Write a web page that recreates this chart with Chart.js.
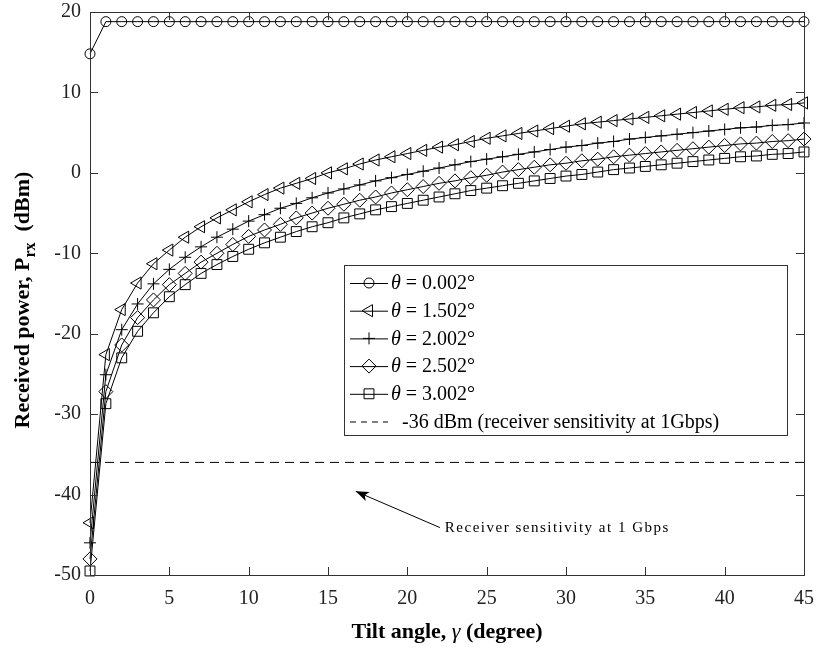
<!DOCTYPE html>
<html lang="en">
<head>
<meta charset="UTF-8" />
<title>Received power vs tilt angle</title>
<script src="https://cdn.jsdelivr.net/npm/chart.js"></script>
<style>
  html, body { margin:0; padding:0; background:#fff; }
  canvas { display:block; }
</style>
</head>
<body>
<canvas id="chart" width="820" height="648"></canvas>

<script>
// ---- data ----
const tilt = [0,1,2,3,4,5,6,7,8,9,10,11,12,13,14,15,16,17,18,19,20,21,22,23,24,25,26,27,28,29,30,31,32,33,34,35,36,37,38,39,40,41,42,43,44,45];

const p0002 = [14.8,18.8,18.8,18.8,18.8,18.8,18.8,18.8,18.8,18.8,18.8,18.8,18.8,18.8,18.8,18.8,18.8,18.8,18.8,18.8,18.8,18.8,18.8,18.8,18.8,18.8,18.8,18.8,18.8,18.8,18.8,18.8,18.8,18.8,18.8,18.8,18.8,18.8,18.8,18.8,18.8,18.8,18.8,18.8,18.8,18.8];
const p1502 = [-43.5,-22.6,-17.0,-13.7,-11.3,-9.6,-8.0,-6.7,-5.6,-4.6,-3.6,-2.7,-1.9,-1.3,-0.7,0.0,0.5,1.1,1.6,2.0,2.4,2.8,3.2,3.5,3.9,4.3,4.6,4.9,5.2,5.5,5.8,6.1,6.3,6.5,6.7,6.9,7.1,7.3,7.5,7.7,7.9,8.1,8.2,8.4,8.5,8.7];
const p2002 = [-46.0,-25.1,-19.5,-16.3,-13.8,-12.0,-10.5,-9.2,-8.0,-7.0,-6.0,-5.2,-4.4,-3.8,-3.1,-2.5,-2.0,-1.5,-1.0,-0.6,-0.2,0.2,0.6,1.0,1.4,1.7,2.0,2.3,2.6,2.9,3.2,3.4,3.7,3.9,4.2,4.4,4.6,4.8,5.0,5.2,5.4,5.6,5.7,5.9,6.0,6.2];
const p2502 = [-48.0,-27.2,-21.4,-18.0,-15.8,-13.9,-12.5,-11.1,-10.0,-8.9,-7.9,-7.1,-6.4,-5.6,-5.0,-4.4,-3.9,-3.4,-3.0,-2.5,-2.1,-1.7,-1.3,-1.0,-0.6,-0.3,0.1,0.4,0.7,1.0,1.2,1.5,1.7,2.0,2.2,2.4,2.6,2.8,3.0,3.2,3.4,3.6,3.7,3.9,4.0,4.2];
const p3002 = [-49.5,-28.7,-23.0,-19.7,-17.4,-15.4,-13.9,-12.5,-11.4,-10.4,-9.5,-8.7,-8.0,-7.3,-6.7,-6.2,-5.6,-5.1,-4.6,-4.2,-3.8,-3.4,-3.0,-2.6,-2.2,-1.9,-1.6,-1.3,-1.0,-0.7,-0.4,-0.2,0.1,0.4,0.6,0.8,1.0,1.2,1.4,1.6,1.8,2.0,2.1,2.3,2.4,2.6];

const sensX = [0, 45];
const sensY = [-36, -36];

const thetaLabels = ['0.002°', '1.502°', '2.002°', '2.502°', '3.002°'];
const sensLabel   = '-36 dBm (receiver sensitivity at 1Gbps)';
const noteText    = 'Receiver sensitivity at 1 Gbps';
const xTicks = [0,5,10,15,20,25,30,35,40,45];
const yTicks = [-50,-40,-30,-20,-10,0,10,20];

// ---- marker style per series ----
const markers = [
  { pointStyle:'circle',   radius:5, rotation:0 },
  { pointStyle:'triangle', radius:7, rotation:-90 },
  { pointStyle:'cross',    radius:6, rotation:0 },
  { pointStyle:'rectRot',  radius:7, rotation:0 },
  { pointStyle:'rect',     radius:7, rotation:0 }
];

const series = [p0002, p1502, p2002, p2502, p3002];
const INK = '#000';
const SERIF = '"Liberation Serif", "DejaVu Serif", serif';

const datasets = series.map((vals, i) => ({
  label: 'θ = ' + thetaLabels[i],
  data: tilt.map((t, k) => ({ x: t, y: vals[k] })),
  borderColor: INK,
  borderWidth: 1,
  pointStyle: markers[i].pointStyle,
  pointRadius: markers[i].radius,
  pointRotation: markers[i].rotation,
  pointBorderColor: INK,
  pointBorderWidth: 1,
  pointBackgroundColor: 'rgba(0,0,0,0)',
  fill: false,
  tension: 0,
  clip: false
}));

datasets.push({
  label: sensLabel,
  data: sensX.map((x, k) => ({ x, y: sensY[k] })),
  borderColor: INK,
  borderWidth: 1,
  borderDash: [9, 6],
  pointRadius: 0,
  fill: false
});

// ---- box, inward ticks, axis titles, legend, annotation ----
const decor = {
  id: 'decor',
  afterDraw(chart) {
    const { ctx, chartArea: a, scales: { x, y } } = chart;
    ctx.save();

    // frame + inward ticks
    ctx.strokeStyle = '#333';
    ctx.lineWidth = 1;
    ctx.strokeRect(a.left + 0.5, a.top + 0.5, a.right - a.left, a.bottom - a.top);
    const tl = 8;
    ctx.beginPath();
    xTicks.forEach(v => {
      const px = Math.round(x.getPixelForValue(v)) + 0.5;
      ctx.moveTo(px, a.bottom); ctx.lineTo(px, a.bottom - tl);
      ctx.moveTo(px, a.top);    ctx.lineTo(px, a.top + tl);
    });
    yTicks.forEach(v => {
      const py = Math.round(y.getPixelForValue(v)) + 0.5;
      ctx.moveTo(a.left, py);  ctx.lineTo(a.left + tl, py);
      ctx.moveTo(a.right, py); ctx.lineTo(a.right - tl, py);
    });
    ctx.stroke();

    ctx.fillStyle = INK;
    ctx.textBaseline = 'alphabetic';

    // x title: "Tilt angle, γ (degree)"
    const xParts = [
      { t:'Tilt angle, ', f:'bold 22px ' + SERIF },
      { t:'γ',            f:'italic 22px ' + SERIF },
      { t:' (degree)',    f:'bold 22px ' + SERIF }
    ];
    let w = 0;
    xParts.forEach(p => { ctx.font = p.f; p.w = ctx.measureText(p.t).width; w += p.w; });
    let cx = (a.left + a.right) / 2 - w / 2;
    xParts.forEach(p => { ctx.font = p.f; ctx.textAlign = 'left'; ctx.fillText(p.t, cx, 638); cx += p.w; });

    // y title: "Received power, P_rx (dBm)"
    ctx.save();
    ctx.translate(29, 300);
    ctx.rotate(-Math.PI / 2);
    const yParts = [
      { t:'Received power, P', f:'bold 22px ' + SERIF, dy:0 },
      { t:'rx',                f:'bold 16px ' + SERIF, dy:6 },
      { t:'  (dBm)',           f:'bold 22px ' + SERIF, dy:0 }
    ];
    w = 0;
    yParts.forEach(p => { ctx.font = p.f; p.w = ctx.measureText(p.t).width; w += p.w; });
    cx = -w / 2;
    yParts.forEach(p => { ctx.font = p.f; ctx.textAlign = 'left'; ctx.fillText(p.t, cx, p.dy); cx += p.w; });
    ctx.restore();

    // legend box
    const L = { left:344, top:265, right:787, bottom:435 };
    ctx.fillStyle = '#fff';
    ctx.fillRect(L.left, L.top, L.right - L.left, L.bottom - L.top);
    ctx.strokeStyle = '#333';
    ctx.strokeRect(L.left + 0.5, L.top + 0.5, L.right - L.left, L.bottom - L.top);
    const rowH = 27.7;
    const lx0 = 350, lx1 = 388, tx = 391;
    for (let i = 0; i < 6; i++) {
      const ry = L.top + 18 + i * rowH;
      ctx.strokeStyle = INK;
      ctx.lineWidth = 1;
      ctx.beginPath();
      if (i === 5) ctx.setLineDash([6, 5]);
      ctx.moveTo(lx0, ry + 0.5); ctx.lineTo(lx1, ry + 0.5);
      ctx.stroke();
      ctx.setLineDash([]);
      ctx.textBaseline = 'middle';
      if (i < 5) {
        ctx.fillStyle = 'rgba(0,0,0,0)';
        Chart.helpers.drawPoint(ctx, {
          pointStyle: markers[i].pointStyle,
          radius: markers[i].radius,
          rotation: markers[i].rotation,
          borderWidth: 1
        }, (lx0 + lx1) / 2, ry);
        ctx.fillStyle = INK;
        ctx.font = 'italic 20px ' + SERIF;
        ctx.fillText('θ', tx, ry + 1);
        const tw = ctx.measureText('θ').width;
        ctx.font = '20px ' + SERIF;
        ctx.fillText(' = ' + thetaLabels[i], tx + tw, ry + 1);
      } else {
        ctx.fillStyle = INK;
        ctx.font = '20px ' + SERIF;
        ctx.fillText(sensLabel, 402, ry + 1);
      }
    }

    // annotation arrow + note
    const tipX = x.getPixelForValue(16.75), tipY = y.getPixelForValue(-39.6);
    const tailX = x.getPixelForValue(22.05), tailY = y.getPixelForValue(-44.1);
    ctx.strokeStyle = INK;
    ctx.fillStyle = INK;
    ctx.beginPath();
    ctx.moveTo(tailX, tailY); ctx.lineTo(tipX, tipY);
    ctx.stroke();
    const ang = Math.atan2(tipY - tailY, tipX - tailX);
    const ah = 13, aw = 5;
    ctx.beginPath();
    ctx.moveTo(tipX, tipY);
    ctx.lineTo(tipX - ah * Math.cos(ang) + aw * Math.sin(ang), tipY - ah * Math.sin(ang) - aw * Math.cos(ang));
    ctx.lineTo(tipX - ah * 0.75 * Math.cos(ang), tipY - ah * 0.75 * Math.sin(ang));
    ctx.lineTo(tipX - ah * Math.cos(ang) - aw * Math.sin(ang), tipY - ah * Math.sin(ang) + aw * Math.cos(ang));
    ctx.closePath();
    ctx.fill();
    ctx.font = '15px ' + SERIF;
    ctx.letterSpacing = '1.5px';
    ctx.textBaseline = 'middle';
    ctx.fillText(noteText, tailX + 5, tailY + 1);
    ctx.letterSpacing = '0px';

    ctx.restore();
  }
};

new Chart(document.getElementById('chart'), {
  type: 'line',
  data: { datasets },
  options: {
    responsive: false,
    animation: false,
    layout: { padding: { left: 0, right: 16, top: 12, bottom: 0 } },
    plugins: { legend: { display: false }, tooltip: { enabled: false } },
    scales: {
      x: {
        type: 'linear', min: 0, max: 45,
        grid: { display: false, drawTicks: false },
        border: { display: false },
        afterFit: s => { s.height = 73; s.paddingLeft = 0; s.paddingRight = 0; },
        afterBuildTicks: s => { s.ticks = xTicks.map(v => ({ value: v })); },
        ticks: { color: '#222', padding: 12, maxRotation: 0, font: { family: SERIF, size: 20 } }
      },
      y: {
        type: 'linear', min: -50, max: 20,
        grid: { display: false, drawTicks: false },
        border: { display: false },
        afterFit: s => { s.width = 90; s.paddingTop = 0; s.paddingBottom = 0; },
        afterBuildTicks: s => { s.ticks = yTicks.map(v => ({ value: v })); },
        ticks: { color: '#222', padding: 9, font: { family: SERIF, size: 20 } }
      }
    }
  },
  plugins: [decor]
});
</script>
</body>
</html>
